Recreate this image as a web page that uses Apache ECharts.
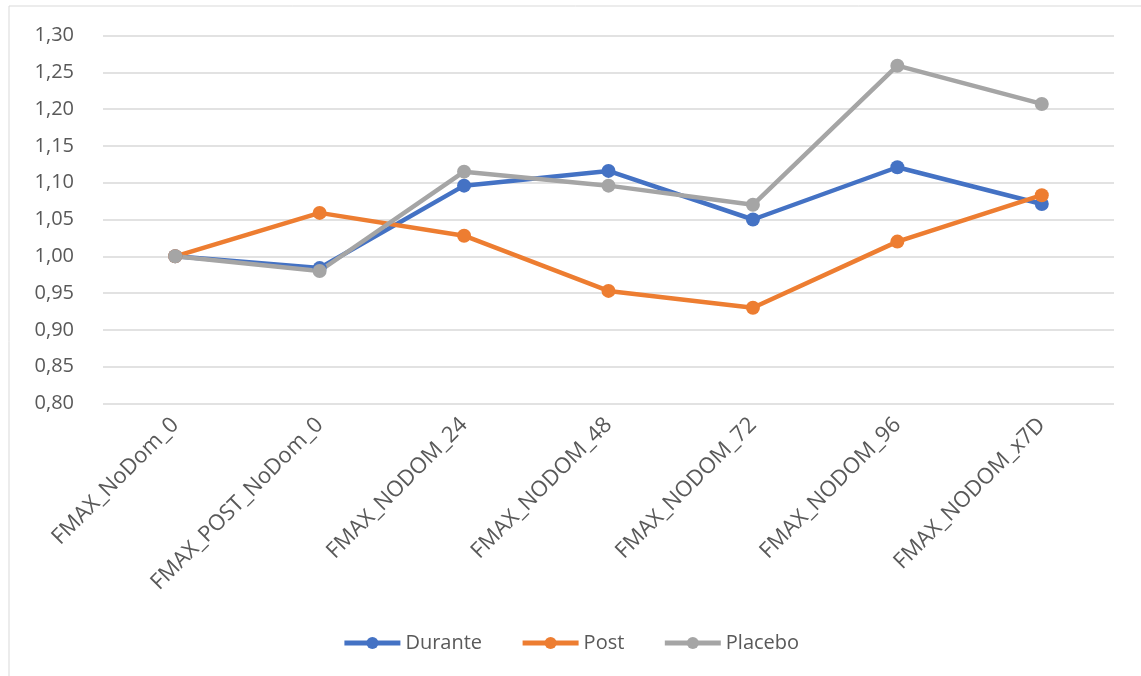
<!DOCTYPE html>
<html>
<head>
<meta charset="utf-8">
<script src="https://cdn.jsdelivr.net/npm/echarts@6/dist/echarts.min.js"></script>
<style>
  html, body { margin: 0; padding: 0; background: #fff; }
  #chart { width: 1141px; height: 676px; }
</style>
</head>
<body>
<div id="chart"></div>
<script>
// categories and values
var categories = ['FMAX_NoDom_0', 'FMAX_POST_NoDom_0', 'FMAX_NODOM_24', 'FMAX_NODOM_48', 'FMAX_NODOM_72', 'FMAX_NODOM_96', 'FMAX_NODOM_x7D']
var durante = [1.000, 0.984, 1.096, 1.116, 1.050, 1.121, 1.071]
var post = [1.000, 1.059, 1.028, 0.953, 0.930, 1.020, 1.083]
var placebo = [1.000, 0.980, 1.115, 1.096, 1.070, 1.259, 1.207]

var chart = echarts.init(document.getElementById('chart'))

var textColor = '#595959'
var font = 'Open Sans'

function lineSeries(name, data, color) {
  return {
    name: name,
    type: 'line',
    data: data,
    symbol: 'circle',
    symbolSize: 14,
    itemStyle: { color: color },
    lineStyle: { color: color, width: 4.5 },
    animation: false
  }
}

chart.setOption({
  textStyle: { fontFamily: font },
  graphic: [{
    type: 'rect',
    shape: { x: 9, y: 6, width: 1140, height: 680 },
    style: { fill: 'none', stroke: '#d9d9d9', lineWidth: 1 },
    silent: true
  }],
  grid: {
    left: 103,
    right: 27,
    top: 35.5,
    bottom: 272.5,
    containLabel: false
  },
  xAxis: {
    type: 'category',
    data: categories,
    boundaryGap: true,
    axisLine: { show: false },
    axisTick: { show: false },
    axisLabel: {
      rotate: 45,
      margin: 18,
      color: textColor,
      fontSize: 22,
      fontFamily: font
    }
  },
  yAxis: {
    type: 'value',
    min: 0.8,
    max: 1.3,
    interval: 0.05,
    axisLine: { show: false },
    axisTick: { show: false },
    splitLine: { lineStyle: { color: '#d9d9d9', width: 1.5 } },
    axisLabel: {
      margin: 29,
      color: textColor,
      fontSize: 20,
      fontFamily: font,
      formatter: function (v) { return v.toFixed(2).replace('.', ',') }
    }
  },
  legend: {
    bottom: 18,
    left: 'center',
    itemWidth: 56,
    itemHeight: 15,
    itemGap: 38,
    itemStyle: { borderWidth: 0 },
    lineStyle: { width: 5 },
    textStyle: { color: textColor, fontSize: 20, fontFamily: font },
    data: ['Durante', 'Post', 'Placebo']
  },
  series: [
    lineSeries('Durante', durante, '#4472C4'),
    lineSeries('Post', post, '#ED7D31'),
    lineSeries('Placebo', placebo, '#A5A5A5')
  ]
})
</script>
</body>
</html>
